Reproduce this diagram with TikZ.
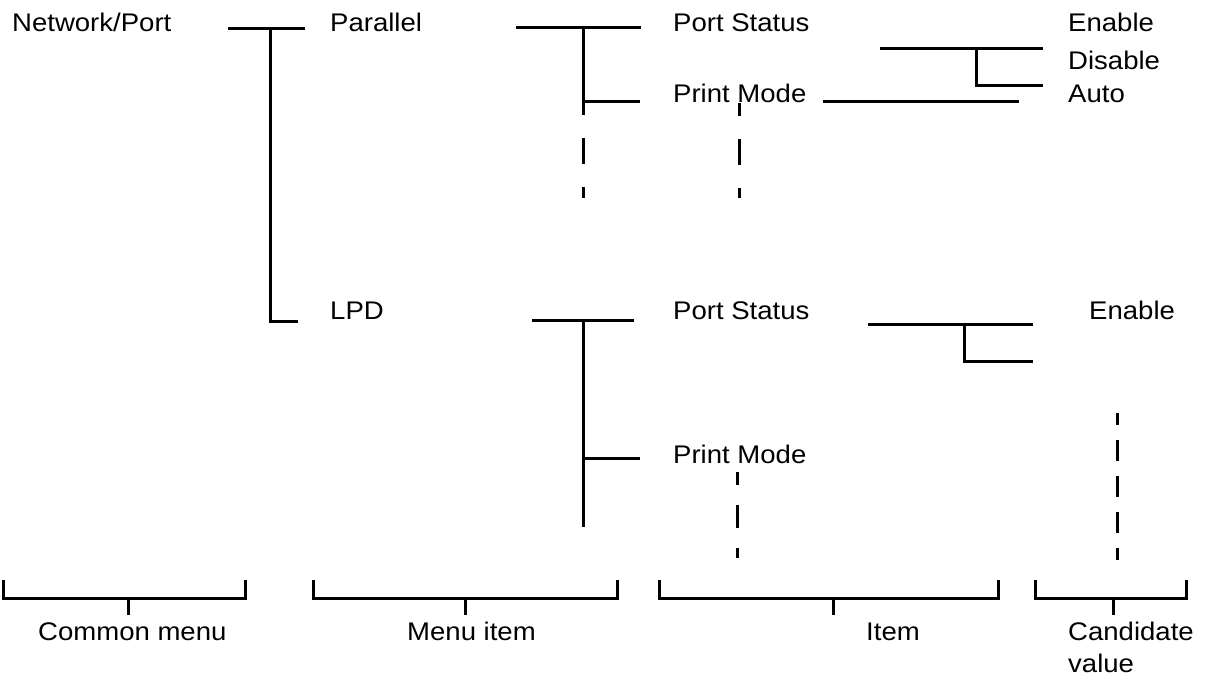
\documentclass[tikz,border=0pt]{standalone}
\usepackage{fontspec}
\setmainfont{Liberation Sans}[FakeStretch=1.08]
\begin{document}
\begin{tikzpicture}[x=1pt,y=-1pt,
  lbl/.style={anchor=base west,inner sep=0pt,font=\fontsize{25.5}{30}\selectfont},
  wire/.style={line width=3pt,line cap=butt,line join=miter},
  dashA/.style={wire,dash pattern=on 26pt off 23pt,dash phase=13pt},
  dashB/.style={wire,dash pattern=on 23pt off 20pt,dash phase=10pt},
  dashC/.style={wire,dash pattern=on 21pt off 15pt,dash phase=9pt}]
\useasboundingbox (0,0) rectangle (1205,682);
% texts
\node[lbl] (netport) at (12,32) {Network/Port};
\node[lbl] (parallel) at (330,32) {Parallel};
\node[lbl] (lpd) at (330,319) {LPD};
\node[lbl] (ps1) at (673,32) {Port Status};
\node[lbl] (pm1) at (673,103) {Print Mode};
\node[lbl] (en1) at (1068,32) {Enable};
\node[lbl] (dis1) at (1068,70) {Disable};
\node[lbl] (auto1) at (1068,103) {Auto};
\node[lbl] (ps2) at (673,319) {Port Status};
\node[lbl] (pm2) at (673,463) {Print Mode};
\node[lbl] (en2) at (1089,319) {Enable};
\node[lbl] (cm) at (38,640) {Common menu};
\node[lbl] (mi) at (407,640) {Menu item};
\node[lbl] (it) at (866,640) {Item};
\node[lbl] (cv) at (1068,640) {Candidate};
\node[lbl] (cv2) at (1068,672) {value};
% coordinates
\coordinate (a1) at (228,29); \coordinate (a2) at (305,29);
\coordinate (a3) at (270,29); \coordinate (a4) at (270,321); \coordinate (a5) at (298,321);
\coordinate (b1) at (516,28); \coordinate (b2) at (641,28);
\coordinate (b3) at (583,28); \coordinate (b4) at (583,102); \coordinate (b5) at (640,102);
\coordinate (b6) at (583,198);
\coordinate (c1) at (739,103); \coordinate (c2) at (739,198);
\coordinate (d1) at (880,49); \coordinate (d2) at (1043,49);
\coordinate (d3) at (976,49); \coordinate (d4) at (976,86); \coordinate (d5) at (1043,86);
\coordinate (e1) at (823,102); \coordinate (e2) at (1019,102);
\coordinate (f1) at (532,320); \coordinate (f2) at (634,320);
\coordinate (f3) at (583,320); \coordinate (f4) at (583,527);
\coordinate (f5) at (583,458); \coordinate (f6) at (640,458);
\coordinate (g1) at (868,324); \coordinate (g2) at (1033,324);
\coordinate (g3) at (964,324); \coordinate (g4) at (964,361); \coordinate (g5) at (1033,361);
\coordinate (h1) at (737,472); \coordinate (h2) at (737,558);
\coordinate (k1) at (1117,413); \coordinate (k2) at (1117,560);
% tree lines
\draw[wire] (a1) -- (a2);
\draw[wire] (a3) -- (a4) -- (a5);
\draw[wire] (b1) -- (b2);
\draw[wire] (b3) -- (b4);
\draw[wire] (b4) -- (b5);
\draw[dashA] (b4) -- (b6);
\draw[dashA] (c1) -- (c2);
\draw[wire] (d1) -- (d2);
\draw[wire] (d3) -- (d4) -- (d5);
\draw[wire] (e1) -- (e2);
\draw[wire] (f1) -- (f2);
\draw[wire] (f3) -- (f4);
\draw[wire] (f5) -- (f6);
\draw[wire] (g1) -- (g2);
\draw[wire] (g3) -- (g4) -- (g5);
\draw[dashB] (h1) -- (h2);
\draw[dashC] (k1) -- (k2);
% brackets
\foreach \l/\r/\t/\n in {3/245/128/p, 313/617/465/q, 659/998/833/r, 1035/1186/1113/s}{
  \coordinate (\n l) at (\l,580); \coordinate (\n r) at (\r,580);
  \coordinate (\n m) at (\t,598); \coordinate (\n t) at (\t,615);
  \draw[wire] (\n l) -- (\l,598) -- (\r,598) -- (\n r);
  \draw[wire] (\n m) -- (\n t);
}
\end{tikzpicture}
\end{document}
